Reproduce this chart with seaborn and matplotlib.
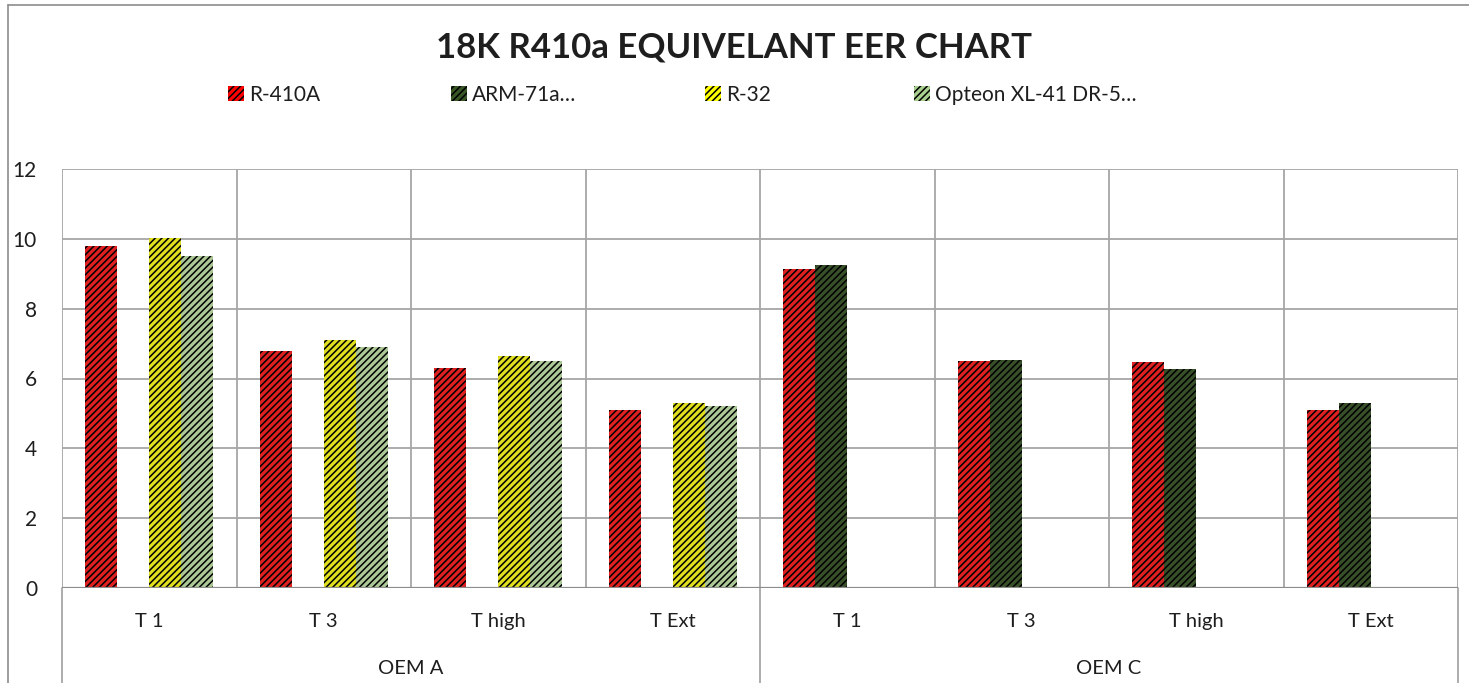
import pandas as pd
import seaborn as sns
import matplotlib.pyplot as plt
from matplotlib.patches import Patch
from matplotlib.lines import Line2D

# chart data
groups = ["OEM A"] * 4 + ["OEM C"] * 4
conditions = ["T 1", "T 3", "T high", "T Ext"] * 2
refrigerants = ["R-410A", "ARM-71a…", "R-32", "Opteon XL-41 DR-5…"]
r410a = [9.8, 6.8, 6.3, 5.1, 9.13, 6.5, 6.48, 5.1]
arm71a = [None, None, None, None, 9.26, 6.53, 6.26, 5.3]
r32 = [10.02, 7.1, 6.65, 5.3, None, None, None, None]
opteon = [9.5, 6.9, 6.5, 5.2, None, None, None, None]
colors = ["#FF0000", "#375623", "#FFFF00", "#A9D08E"]

rows = []
for ref, vals in zip(refrigerants, [r410a, arm71a, r32, opteon]):
    for i, v in enumerate(vals):
        if v is not None:
            rows.append({"cat": f"{groups[i]}|{conditions[i]}", "ref": ref, "eer": v})
df = pd.DataFrame(rows)
cat_order = [f"{g}|{c}" for g, c in zip(groups, conditions)]

sns.set_theme(style="white")
plt.rcParams["font.family"] = ["Lato", "DejaVu Sans"]
plt.rcParams["hatch.linewidth"] = 1.1
text_color = "#1E1E1E"
grid_color = "#A6A6A6"

fig = plt.figure(figsize=(14.69, 6.83), dpi=100)
ax = fig.add_axes([62 / 1469, 95 / 683, (1458 - 62) / 1469, (588 - 169) / 683])

sns.barplot(data=df, x="cat", y="eer", hue="ref", order=cat_order,
            hue_order=refrigerants, palette=colors, width=0.733,
            dodge=True, errorbar=None, legend=False, ax=ax, zorder=3)

for bar in ax.patches:
    bar.set_hatch("/////")
    bar.set_edgecolor("black")
    bar.set_linewidth(0)

ax.set_ylim(0, 12)
ax.set_yticks(range(0, 13, 2))
ax.set_xlim(-0.5, 7.5)
ax.set_xticks(range(8))
ax.set_xticklabels(conditions)
ax.set_xticks([x - 0.5 for x in range(9)], minor=True)
ax.set_xlabel("")
ax.set_ylabel("")
for s in ax.spines.values():
    s.set_visible(False)
ax.grid(axis="y", color=grid_color, lw=1.3, zorder=0)
ax.grid(axis="x", which="minor", color=grid_color, lw=1.3, zorder=0)
ax.grid(axis="x", which="major", visible=False)
ax.axhline(0, color="#8C8C8C", lw=1.6, zorder=4)
ax.tick_params(axis="y", length=0, pad=18, labelsize=15, labelcolor=text_color)
ax.tick_params(axis="x", which="both", length=0, pad=18, labelsize=14.5, labelcolor=text_color)

# group separators below the axis and group labels
xt = ax.get_xaxis_transform()
for x in [-0.5, 3.5, 7.5]:
    ax.plot([x, x], [0, -0.3], transform=xt, color=grid_color, lw=1.3, clip_on=False)
for x, g in [(1.5, "OEM A"), (5.5, "OEM C")]:
    ax.text(x, -0.191, g, transform=xt, ha="center", va="center",
            fontsize=14.5, color=text_color)

fig.text(734 / 1469, 1 - 47 / 683, "18K R410a EQUIVELANT EER CHART",
         ha="center", va="center", fontsize=25, fontweight="bold", color=text_color)

# legend entries placed individually like the reference
leg_x = [228, 451, 705, 914]
for ref, c, x in zip(refrigerants, colors, leg_x):
    h = Patch(facecolor=c, edgecolor="black", hatch="/////", lw=0)
    leg = fig.legend([h], [ref], loc="center left",
                     bbox_to_anchor=(x / 1469, 1 - 95 / 683), frameon=False,
                     fontsize=15, handlelength=0.75, handleheight=0.75,
                     handletextpad=0.25, borderpad=0, borderaxespad=0)
    for t in leg.get_texts():
        t.set_color(text_color)

# outer chart border
fig.add_artist(Line2D([8 / 1469, 1], [1 - 5 / 683, 1 - 5 / 683], color="#8C8C8C", lw=1.2))
fig.add_artist(Line2D([8 / 1469, 8 / 1469], [0, 1 - 5 / 683], color="#8C8C8C", lw=1.2))

fig.savefig("out.png", dpi=100)
